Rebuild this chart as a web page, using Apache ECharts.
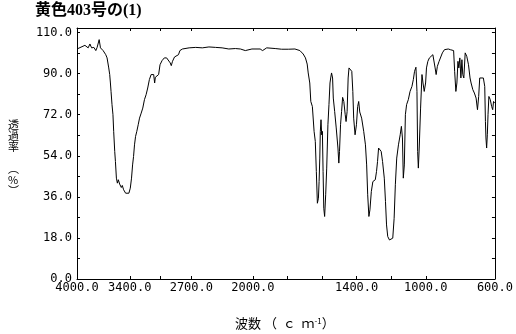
<!DOCTYPE html>
<html>
<head>
<meta charset="UTF-8">
<title>黄色403号の(1)</title>
<script type="text/javascript" src="https://cdn.jsdelivr.net/npm/echarts@6/dist/echarts.min.js"></script>
<style>
  *{margin:0;padding:0}
  html,body{width:100%;height:100%;background:#fff}
  #main{width:516px;height:334px}
</style>
</head>
<body>
<div id="main"></div>
<script type="text/javascript">
// 波数 (cm-1)
var wavenumber = [4000,3910,3873,3853,3834,3808,3786,3771,3748,3733,3703,3673,3658,3639,3628,3620,3613,3602,3591,3583,
  3571,3563,3552,3541,3530,3515,3496,3485,3470,3447,3428,3410,3394,3380,3368,3357,3346,3334,3320,3304,
  3289,3270,3252,3233,3214,3196,3177,3157,3139,3128,3117,3109,3094,3072,3056,3033,3007,2981,2959,2940,
  2928,2914,2891,2869,2846,2830,2801,2725,2650,2575,2500,2424,2350,2274,2199,2142,2086,2011,
  1958,1944,1920,1871,1834,1795,1757,1728,1709,1696,1686,1680,1671,1665,1656,1646,1639,1633,1627,1621,
  1617,1613,1610,1606,1602,1598,1594,1590,1585,1579,1573,1566,1560,1554,1550,1545,1539,1535,1527,1518,
  1508,1503,1499,1493,1487,1481,1474,1466,1461,1455,1449,1444,1435,1428,1422,1417,1409,1401,1394,1388,
  1382,1371,1359,1349,1342,1336,1329,1323,1315,1306,1292,1285,1279,1273,1266,1258,1250,1240,1233,1227,
  1220,1210,1199,1191,1183,1176,1168,1158,1148,1141,1135,1130,1124,1118,1111,1101,1091,1080,1072,1065,
  1057,1051,1047,1043,1038,1030,1022,1016,1009,1001,996,988,979,969,959,953,946,940,933,923,
  912,904,892,881,870,858,849,839,833,826,820,814,809,803,797,791,786,780,772,763,
  753,744,738,728,719,709,701,694,688,678,667,659,655,652,648,644,640,635,627,619,
  613,608,602,600];
// 透過率 (%)
var transmittance = [100.8,102.4,101.3,103,101.3,101.5,100.1,101.5,104.9,101.3,100.1,98.3,96.9,92.5,89.6,85.9,82.2,76.4,72,64.7,
  55.9,51.5,44.2,42,43.5,41.6,40.1,41,39.1,37.6,36.9,37.6,39.8,44.2,50,53.7,58.8,62.5,64.7,67.6,
  70.5,72.7,74.9,78.6,80.8,83.7,87.4,89.6,90.3,89.6,85.9,88.4,88.8,89.6,93.9,95.7,96.9,96.9,96.1,94.7,
  93.5,95.4,97.3,97.6,98.3,100.1,100.8,101.3,101.5,101.3,101.7,101.5,101.3,100.8,101,100.8,100.1,100.8,
  100.8,100.1,101.3,101,100.7,100.7,100.8,100.1,98.6,96.9,94.2,90.3,85.9,77.8,75.6,64.7,60.3,47.1,33.2,35.4,
  42.7,53,64.7,69.8,63.2,64.7,47.1,31,27.4,36.9,48.6,67.6,76.4,85.9,88.1,90.3,88.1,79.3,73.4,66.2,
  57.4,50.8,55.9,67.6,73.4,79.6,77.8,72,69,73.4,88.1,92.5,92.8,91,82.2,70.5,63.2,67.6,75.6,77.8,
  73.2,70.5,64.7,58.8,50,36.9,27.4,30.3,38.3,42.7,43.5,47.1,51.5,57.4,58.1,55.9,51.5,44.2,33.9,23.7,
  18.6,17.1,16.4,17.9,26.6,41.3,53,58.8,63.2,66.9,61.8,44.2,50,72,76.4,78.6,82.2,84.4,87.4,91,
  92.8,82.2,55.9,48.6,57.4,74.9,89.6,85.9,82.2,85.9,92.5,95.4,96.9,97.6,98.3,98.6,92.5,89.6,93.2,95.4,
  96.1,99.1,100.5,101.3,100.8,100.5,101,100.1,91,82.2,85.9,95.4,92.5,96.9,88.1,96.1,89.6,88.1,99.1,97.6,
  93.9,88.1,85.9,83,81.5,79.3,74.2,80,88.1,88.5,88.1,84.4,69,61.8,57.4,63.2,72,80,78.6,75.6,
  74.2,77.8,77.1,77.5];

var xTickWn = [3400, 3050, 2700, 2000, 1800, 1600, 1400, 1200, 1000];
var xLabelWn = [4000, 3400, 2700, 2000, 1400, 1000, 600];
var yTicks = [0, 9, 18, 27, 36, 45, 54, 63, 72, 81, 90, 99, 108];
var yLabelVals = [0, 18, 36, 54, 72, 90, 108];
var yLabels = ['0.0', '18.0', '36.0', '54.0', '72.0', '90.0', '110.0'];

// 2000 cm-1 以下は横軸の縮尺が約2倍
var K = 1.966;
function toU(w) {
  return w >= 2000 ? 4000 - w : 2000 + (2000 - w) * K;
}
var uMax = toU(600);

var data = wavenumber.map(function (w, i) { return [toU(w), transmittance[i]]; });
var xLabelU = xLabelWn.map(toU);
var xTickU = xTickWn.map(toU);

var mono = '"DejaVu Sans Mono", monospace';
var cjk = '"Noto Sans CJK JP"';
var lineStyle = { color: '#000', width: 1 };

function xAxisOf(pos, show) {
  return {
    type: 'value', position: pos, min: 0, max: uMax,
    axisLine: { show: true, onZero: false, lineStyle: lineStyle },
    axisTick: { show: true, inside: true, length: 3, lineStyle: lineStyle, customValues: xTickU },
    axisLabel: {
      show: show, customValues: xLabelU, margin: 3, color: '#000', fontFamily: mono, fontSize: 12,
      formatter: function (v) {
        for (var i = 0; i < xLabelU.length; i++) {
          if (Math.abs(xLabelU[i] - v) < 1e-6) return xLabelWn[i].toFixed(1);
        }
        return '';
      }
    },
    splitLine: { show: false }
  };
}
function yAxisOf(pos, show) {
  return {
    type: 'value', position: pos, min: 0, max: 110,
    axisLine: { show: true, onZero: false, lineStyle: lineStyle },
    axisTick: { show: true, inside: true, length: 3, lineStyle: lineStyle, customValues: yTicks },
    axisLabel: {
      show: show, customValues: yLabelVals, margin: 5, color: '#000', fontFamily: mono, fontSize: 12,
      formatter: function (v) {
        var i = yLabelVals.indexOf(v);
        return i >= 0 ? yLabels[i] : '';
      }
    },
    splitLine: { show: false }
  };
}

var option = {
  animation: false,
  backgroundColor: '#fff',
  title: {
    text: '黄色403号の(1)',
    left: 35, top: 3, padding: 0,
    textStyle: { fontSize: 16, fontWeight: 'bold', color: '#000', fontFamily: '"Liberation Serif", "Noto Sans CJK JP"' }
  },
  grid: { left: 77, right: 18, top: 28, bottom: 55 },
  xAxis: [xAxisOf('bottom', true), xAxisOf('top', false)],
  yAxis: [yAxisOf('left', true), yAxisOf('right', false)],
  graphic: [
    {
      type: 'text', left: 8, top: 119,
      style: {
        text: '透\n過\n率\n\n︵\n%\n︶',
        align: 'center',
        fontSize: 11, fontFamily: cjk, lineHeight: 11, fill: '#000'
      }
    },
    {
      type: 'text', left: 235, top: 317,
      style: {
        text: '{a|波数 （  ｃ  ｍ}{s|-1}{a|）}',
        rich: {
          a: { fontSize: 13, fontFamily: cjk, color: '#000' },
          s: { fontSize: 8, fontFamily: cjk, color: '#000', verticalAlign: 'top' }
        }
      }
    }
  ],
  series: [{
    type: 'line',
    data: data,
    showSymbol: false,
    lineStyle: { color: '#000', width: 1 },
    silent: true
  }]
};

var myChart = echarts.init(document.getElementById('main'));
myChart.setOption(option);
</script>
</body>
</html>
